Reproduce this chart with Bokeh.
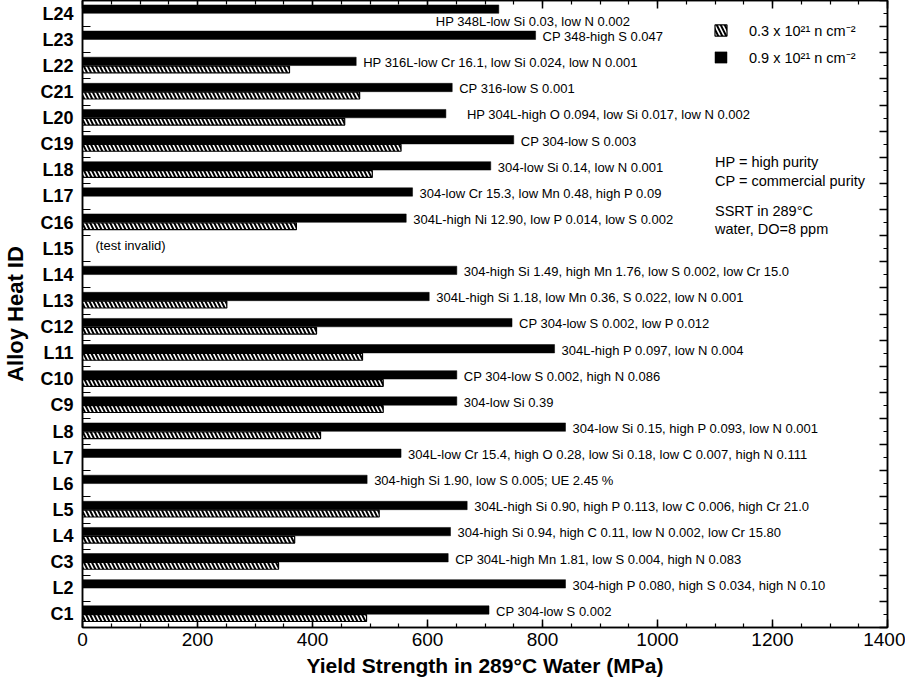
import numpy as np
from bokeh.plotting import figure
from bokeh.models import (FixedTicker, LinearAxis, Legend, LegendItem, Label,
                          ColumnDataSource, Range1d)
from bokeh.core.properties import value
from bokeh.embed import file_html
from bokeh.resources import INLINE

# ---- data (bottom -> top) ----
ids = ["C1", "L2", "C3", "L4", "L5", "L6", "L7", "L8", "C9", "C10", "L11", "C12",
       "L13", "L14", "L15", "C16", "L17", "L18", "C19", "L20", "C21", "L22", "L23", "L24"]
ys_09 = [707, 840, 636, 640, 669, 495, 554, 840, 651, 651, 821, 747,
         603, 651, np.nan, 563, 574, 710, 750, 632, 643, 476, 788, 724]
ys_03 = [494, np.nan, 341, 369, 516, np.nan, np.nan, 414, 523, 523, 487, 407,
         251, np.nan, np.nan, 372, np.nan, 504, 554, 456, 482, 360, np.nan, np.nan]
notes = [
    "CP 304-low S 0.002",
    "304-high P 0.080, high S 0.034, high N 0.10",
    "CP 304L-high Mn 1.81, low S 0.004, high N 0.083",
    "304-high Si 0.94, high C 0.11, low N 0.002, low Cr 15.80",
    "304L-high Si 0.90, high P 0.113, low C 0.006, high Cr 21.0",
    "304-high Si 1.90, low S 0.005; UE 2.45 %",
    "304L-low Cr 15.4, high O 0.28, low Si 0.18, low C 0.007, high N 0.111",
    "304-low Si 0.15, high P 0.093, low N 0.001",
    "304-low Si 0.39",
    "CP 304-low S 0.002, high N 0.086",
    "304L-high P 0.097, low N 0.004",
    "CP 304-low S 0.002, low P 0.012",
    "304L-high Si 1.18, low Mn 0.36, S 0.022, low N 0.001",
    "304-high Si 1.49, high Mn 1.76, low S 0.002, low Cr 15.0",
    "(test invalid)",
    "304L-high Ni 12.90, low P 0.014, low S 0.002",
    "304-low Cr 15.3, low Mn 0.48, high P 0.09",
    "304-low Si 0.14, low N 0.001",
    "CP 304-low S 0.003",
    "HP 304L-high O 0.094, low Si 0.017, low N 0.002",
    "CP 316-low S 0.001",
    "HP 316L-low Cr 16.1, low Si 0.024, low N 0.001",
    "CP 348-high S 0.047",
    "HP 348L-low Si 0.03, low N 0.002",
]
legend_labels = ["0.3 x 10\u00b2\u00b9 n cm\u207b\u00b2", "0.9 x 10\u00b2\u00b9 n cm\u207b\u00b2"]
x_ticks = list(range(0, 1401, 200))
x_minor = list(range(0, 1401, 50))
x_title = "Yield Strength in 289\u00b0C Water (MPa)"
y_title = "Alloy Heat ID"

n = len(ids)
pos = np.arange(n, dtype=float)
FONT = "Liberation Sans"

p = figure(width=905, height=680, x_range=Range1d(0, 1400), y_range=Range1d(-0.5, n - 0.5),
           output_backend="svg", toolbar_location=None,
           min_border_left=79, min_border_right=18, min_border_top=0, min_border_bottom=53)
p.grid.visible = False
p.outline_line_color = "black"
p.outline_line_width = 1.5
p.background_fill_color = "white"
p.border_fill_color = "white"

b09 = np.array(ys_09, dtype=float)
b03 = np.array(ys_03, dtype=float)

src_b = ColumnDataSource(dict(y=(pos + 0.17)[~np.isnan(b09)], right=b09[~np.isnan(b09)]))
src_h = ColumnDataSource(dict(y=(pos - 0.14)[~np.isnan(b03)], right=b03[~np.isnan(b03)]))

rb = p.hbar(y="y", left=0, right="right", height=0.32, source=src_b,
            fill_color="black", line_color="black", line_width=0.5)
rh = p.hbar(y="y", left=0, right="right", height=0.26, source=src_h,
            fill_color="white", line_color="black", line_width=1.2,
            hatch_pattern="\\", hatch_color="black", hatch_scale=8, hatch_weight=2.0)

# bar annotations
lx = np.nan_to_num(b09, nan=0.0)
dx = np.full(n, 7.0)
ly = pos + 0.12
i24 = ids.index("L24"); dx[i24] = -63; ly[i24] = pos[i24] - 0.3
i20 = ids.index("L20"); dx[i20] = 21
i15 = ids.index("L15"); dx[i15] = 13
src_t = ColumnDataSource(dict(x=lx, y=ly, dx=dx, t=notes))
p.text(x="x", y="y", text="t", x_offset="dx", source=src_t,
       text_font=value(FONT), text_font_size="13px", text_baseline="middle",
       text_color="black")

# axes
xa = p.xaxis[0]
xa.ticker = FixedTicker(ticks=x_ticks, minor_ticks=x_minor)
ya = p.yaxis[0]
ya.ticker = FixedTicker(ticks=pos.tolist(), minor_ticks=(np.arange(n + 1) - 0.5).tolist())
ya.major_label_overrides = {int(i): ids[i] for i in range(n)}

for ax in (xa, ya):
    ax.axis_line_color = "black"
    ax.axis_line_width = 1.5
    ax.major_tick_line_color = "black"
    ax.minor_tick_line_color = "black"
    ax.major_tick_line_width = 1.5
    ax.minor_tick_line_width = 1.2
    ax.major_tick_out = 0
    ax.minor_tick_out = 0
    ax.major_label_text_font = FONT
    ax.major_label_text_color = "black"
    ax.axis_label_text_font = FONT
    ax.axis_label_text_font_style = "bold"
    ax.axis_label_text_color = "black"

xa.major_tick_in = 8
xa.minor_tick_in = 4
xa.major_label_text_font_size = "19px"
xa.major_label_standoff = 5
xa.axis_label = x_title
xa.axis_label_text_font_size = "21px"
xa.axis_label_standoff = 5

ya.major_tick_in = 0
ya.minor_tick_in = 8
ya.major_label_text_font_size = "18px"
ya.major_label_text_font_style = "bold"
ya.major_label_standoff = 9
ya.axis_label = y_title
ya.axis_label_text_font_size = "22px"
ya.axis_label_standoff = 9

# mirrored axes (ticks only)
top = LinearAxis(ticker=FixedTicker(ticks=x_ticks, minor_ticks=x_minor))
right = LinearAxis(ticker=FixedTicker(ticks=(np.arange(n + 1) - 0.5).tolist(), minor_ticks=pos.tolist()))
for ax in (top, right):
    ax.major_label_text_font_size = "1px"
    ax.major_label_text_color = None
    ax.major_label_standoff = 0
    ax.axis_line_color = "black"
    ax.axis_line_width = 1.5
    ax.major_tick_in = 8
    ax.major_tick_out = 0
    ax.minor_tick_in = 4
    ax.minor_tick_out = 0
    ax.major_tick_line_width = 1.5
    ax.minor_tick_line_width = 1.2
p.add_layout(top, "above")
p.add_layout(right, "right")

# legend
legend = Legend(items=[LegendItem(label=legend_labels[0], renderers=[rh]),
                       LegendItem(label=legend_labels[1], renderers=[rb])],
                location=(631, 560), border_line_color=None, background_fill_alpha=0,
                padding=0, margin=0, spacing=7, glyph_width=15, glyph_height=14,
                label_height=14, label_standoff=21, label_text_font=FONT,
                label_text_font_size="14.5px", label_text_color="black")
p.add_layout(legend)

for txt, yy in (("HP = high purity", 17.3), ("CP = commercial purity", 16.6),
                ("SSRT in 289\u00b0C", 15.45), ("water, DO=8 ppm", 14.75)):
    p.add_layout(Label(x=1100, y=yy, text=txt, text_font=FONT, text_font_size="14.5px",
                       text_baseline="middle", text_color="black"))

open("out.html", "w").write(file_html(p, INLINE))
